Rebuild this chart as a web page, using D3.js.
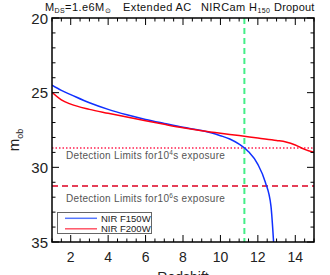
<!DOCTYPE html>
<html>
<head>
<meta charset="utf-8">
<script src="https://cdn.jsdelivr.net/npm/d3@7"></script>
<style>
  body { margin: 0; background: #fff; }
  svg { font-family: "Liberation Sans", Arial, sans-serif; }
</style>
</head>
<body>
<script>
// Chart data
const f150Z = [1, 1.5, 2, 3, 4, 5, 6, 7, 8, 9, 9.5, 10, 10.5, 11, 11.5, 12, 12.4, 12.7, 12.85];
const f150M = [24.5, 24.85, 25.13, 25.68, 26.12, 26.48, 26.79, 27.06, 27.32, 27.54, 27.69, 27.88, 28.1, 28.45, 28.95, 29.8, 31.0, 32.6, 35.2];
const f200Z = [1, 1.5, 2, 3, 4, 5, 6, 7, 8, 9, 10, 11, 12, 13, 13.5, 14, 14.5, 15];
const f200M = [24.97, 25.48, 25.77, 26.12, 26.38, 26.63, 26.88, 27.12, 27.35, 27.55, 27.72, 27.87, 28.04, 28.2, 28.3, 28.5, 28.8, 29.0];
const dropoutZ = 11.28;
const limit1e4 = 28.7;
const limit1e6 = 31.25;
const xTicks = [2, 4, 6, 8, 10, 12, 14];
const yTicks = [20, 25, 30, 35];

const width = 330, height = 275;
const L = 52, R = 314, T = 18, B = 242;

const svg = d3.select("body").append("svg")
    .attr("width", width)
    .attr("height", height);

const x = d3.scaleLinear().domain([1, 15]).range([L, R]);
const y = d3.scaleLinear().domain([20, 35]).range([T, B]);

svg.append("clipPath").attr("id", "clip")
  .append("rect").attr("x", L).attr("y", T).attr("width", R - L).attr("height", B - T);

const plot = svg.append("g").attr("clip-path", "url(#clip)");

// detection limits
plot.append("line")
    .attr("x1", L).attr("x2", R).attr("y1", y(limit1e4)).attr("y2", y(limit1e4))
    .attr("stroke", "#ff2050").attr("stroke-width", 1.5).attr("stroke-dasharray", "1.5,2");
plot.append("line")
    .attr("x1", L).attr("x2", R).attr("y1", y(limit1e6)).attr("y2", y(limit1e6))
    .attr("stroke", "#dd0022").attr("stroke-width", 1.5).attr("stroke-dasharray", "6,4");

// dropout redshift
plot.append("line")
    .attr("x1", x(dropoutZ)).attr("x2", x(dropoutZ)).attr("y1", T).attr("y2", B)
    .attr("stroke", "#44ee88").attr("stroke-width", 2).attr("stroke-dasharray", "6,4");

const line = d3.line().curve(d3.curveMonotoneX);
plot.append("path")
    .attr("d", line(f150Z.map((z, i) => [x(z), y(f150M[i])])))
    .attr("fill", "none").attr("stroke", "#1030ff").attr("stroke-width", 1.5);
plot.append("path")
    .attr("d", line(f200Z.map((z, i) => [x(z), y(f200M[i])])))
    .attr("fill", "none").attr("stroke", "#ff0010").attr("stroke-width", 1.5);

// annotations
const note = svg.append("g").attr("fill", "#555").attr("font-size", 10).attr("letter-spacing", 0.3);
const t1 = note.append("text").attr("x", 66).attr("y", y(limit1e4) + 11);
t1.append("tspan").text("Detection Limits for10");
t1.append("tspan").attr("font-size", 6.5).attr("dy", -4).text("4");
t1.append("tspan").attr("dy", 4).text("s exposure");
const t2 = note.append("text").attr("x", 66).attr("y", y(limit1e6) + 16);
t2.append("tspan").text("Detection Limits for10");
t2.append("tspan").attr("font-size", 6.5).attr("dy", -4).text("6");
t2.append("tspan").attr("dy", 4).text("s exposure");

// ticks, all four sides, pointing inward
const ax = svg.append("g").attr("stroke", "#000").attr("stroke-width", 1);
d3.range(1, 15.01, 0.5).forEach(v => {
  const len = xTicks.includes(v) ? 7 : 3.5;
  ax.append("line").attr("x1", x(v)).attr("x2", x(v)).attr("y1", B).attr("y2", B - len);
  ax.append("line").attr("x1", x(v)).attr("x2", x(v)).attr("y1", T).attr("y2", T + len);
});
d3.range(20, 35.01, 1).forEach(v => {
  const len = yTicks.includes(v) ? 7 : 3.5;
  ax.append("line").attr("x1", L).attr("x2", L + len).attr("y1", y(v)).attr("y2", y(v));
  ax.append("line").attr("x1", R).attr("x2", R - len).attr("y1", y(v)).attr("y2", y(v));
});
svg.append("rect").attr("x", L).attr("y", T).attr("width", R - L).attr("height", B - T)
    .attr("fill", "none").attr("stroke", "#000").attr("stroke-width", 1.5);

// tick labels
svg.append("g").selectAll("text").data(xTicks).join("text")
    .attr("x", d => x(d)).attr("y", 262).attr("text-anchor", "middle")
    .attr("font-size", 14).attr("fill", "#222").text(d => d);
svg.append("g").selectAll("text").data(yTicks).join("text")
    .attr("x", 48).attr("y", d => y(d) + 5.5).attr("text-anchor", "end")
    .attr("font-size", 15).attr("fill", "#222").text(d => d);

svg.append("text").attr("x", (L + R) / 2).attr("y", 282).attr("text-anchor", "middle")
    .attr("font-size", 14).attr("fill", "#222").text("Redshift");

const yl = svg.append("text").attr("transform", "translate(19,140) rotate(-90)")
    .attr("text-anchor", "middle").attr("font-size", 15).attr("fill", "#222");
yl.append("tspan").text("m");
yl.append("tspan").attr("font-size", 9).attr("dy", 4).text("ob");

// title
const title = svg.append("g").attr("font-size", 11).attr("fill", "#111").attr("letter-spacing", 0.4);
const tt = title.append("text").attr("x", 45).attr("y", 11);
tt.append("tspan").text("M");
tt.append("tspan").attr("font-size", 7).attr("dy", 2).text("DS");
tt.append("tspan").attr("dy", -2).text("=1.e6M");
tt.append("tspan").attr("font-size", 7).attr("dy", 2).text("⊙");
title.append("text").attr("x", 123).attr("y", 11).text("Extended AC");
const th = title.append("text").attr("x", 201).attr("y", 11);
th.append("tspan").text("NIRCam H");
th.append("tspan").attr("font-size", 7).attr("dy", 2).text("150");
title.append("text").attr("x", 274).attr("y", 11).attr("letter-spacing", 0.2).text("Dropout");

// legend
const lg = svg.append("g");
lg.append("rect").attr("x", 57.5).attr("y", 212.5).attr("width", 94).attr("height", 21)
    .attr("fill", "#fff").attr("stroke", "#666").attr("stroke-width", 1);
const legendItems = [["NIR F150W", "#5577ff"], ["NIR F200W", "#ff5566"]];
legendItems.forEach((d, i) => {
  const yy = 218.3 + i * 10.5;
  lg.append("line").attr("x1", 65).attr("x2", 97).attr("y1", yy).attr("y2", yy)
      .attr("stroke", d[1]).attr("stroke-width", 1.5);
  lg.append("text").attr("x", 101).attr("y", yy + 3.5).attr("font-size", 9.5)
      .attr("fill", "#222").text(d[0]);
});
</script>
</body>
</html>
